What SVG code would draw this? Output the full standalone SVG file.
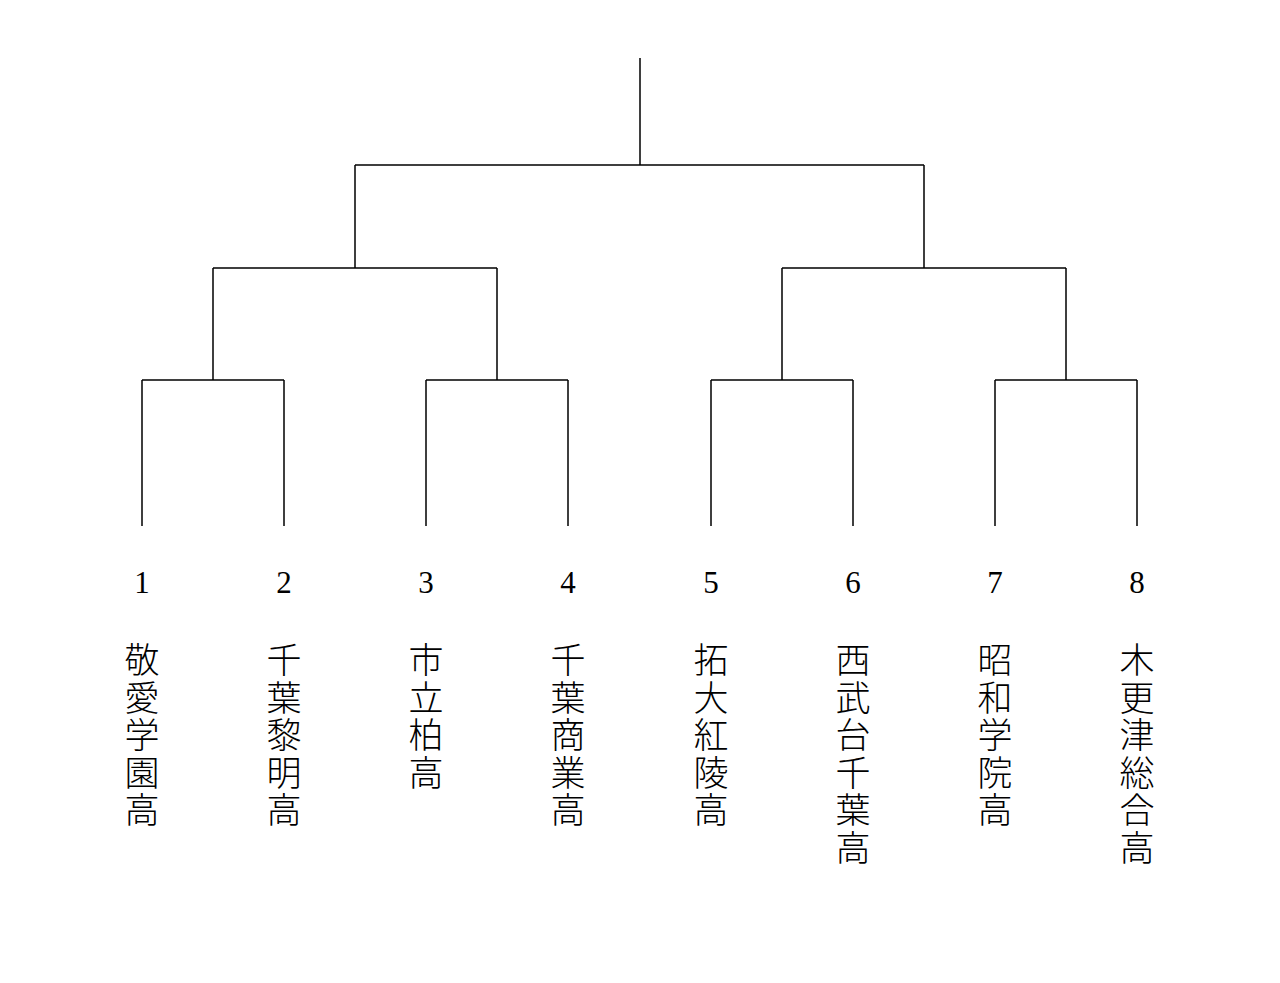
<svg xmlns="http://www.w3.org/2000/svg" width="1280" height="983" viewBox="0 0 1280 983">
<style>
.ln{stroke:#000;stroke-width:1.5;fill:none}
.num{font-family:"Liberation Serif","DejaVu Serif",serif;font-size:31px;text-anchor:middle;fill:#000}
.nm{font-family:"Noto Sans CJK JP","Noto Sans CJK SC",sans-serif;font-size:35px;writing-mode:vertical-rl;text-orientation:upright;letter-spacing:2.5px;fill:#000;font-weight:300}
</style>
<rect width="1280" height="983" fill="#fff"/>
<g id="connectors" class="ln">
<path d="M640 58V165M355 165H924M355 165V268M924 165V268"/>
<path d="M213 268H497M782 268H1066M213 268V380M497 268V380M782 268V380M1066 268V380"/>
<path d="M142 380H284M426 380H568M711 380H853M995 380H1137"/>
<path d="M142 380V526M284 380V526M426 380V526M568 380V526M711 380V526M853 380V526M995 380V526M1137 380V526"/>
</g>
<g id="team1"><text class="num" x="142" y="593">1</text><text class="nm" x="142" y="642.5">敬愛学園高</text></g>
<g id="team2"><text class="num" x="284" y="593">2</text><text class="nm" x="284" y="642.5">千葉黎明高</text></g>
<g id="team3"><text class="num" x="426" y="593">3</text><text class="nm" x="426" y="642.5">市立柏高</text></g>
<g id="team4"><text class="num" x="568" y="593">4</text><text class="nm" x="568" y="642.5">千葉商業高</text></g>
<g id="team5"><text class="num" x="711" y="593">5</text><text class="nm" x="711" y="642.5">拓大紅陵高</text></g>
<g id="team6"><text class="num" x="853" y="593">6</text><text class="nm" x="853" y="642.5">西武台千葉高</text></g>
<g id="team7"><text class="num" x="995" y="593">7</text><text class="nm" x="995" y="642.5">昭和学院高</text></g>
<g id="team8"><text class="num" x="1137" y="593">8</text><text class="nm" x="1137" y="642.5">木更津総合高</text></g>
</svg>
